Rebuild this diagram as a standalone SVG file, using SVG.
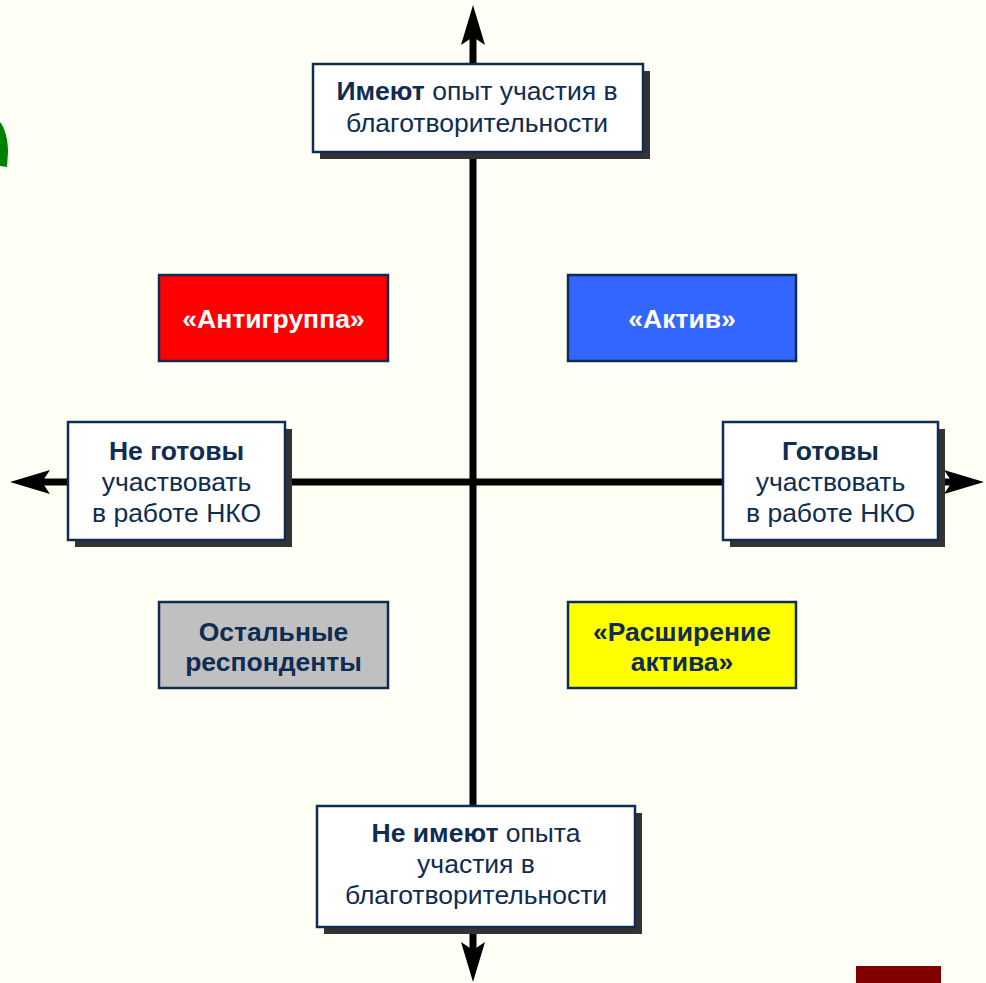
<svg xmlns="http://www.w3.org/2000/svg" width="986" height="983" viewBox="0 0 986 983">
<style>
.t{font-family:"Liberation Sans",Arial,sans-serif;font-size:26.5px;fill:#0f2c52;text-anchor:middle}
.b{font-weight:bold}
.w{fill:#ffffff}
.box{fill:#ffffff;stroke:#0f2c52;stroke-width:2.5}
.sh{fill:#333333}
.q{stroke:#0f2c52;stroke-width:2.5}
.ax{stroke:#000000;stroke-width:7;fill:none}
</style>
<defs>
<marker id="arr" viewBox="0 0 40 24" refX="8" refY="12" markerWidth="40" markerHeight="24" markerUnits="userSpaceOnUse" orient="auto">
<path d="M0,0 L40,12 L0,24 L8,12 Z" fill="#000000"/>
</marker>
</defs>
<rect width="986" height="983" fill="#fffff6"/>
<path d="M0,122 C5,128 8,140 8,152 L7,167 L0,166 Z" fill="#008000"/>
<rect x="856" y="966" width="85" height="17" fill="#800000"/>
<g id="connectors">
<line class="ax" x1="473" y1="482" x2="473" y2="37" marker-end="url(#arr)"/>
<line class="ax" x1="473" y1="482" x2="473" y2="950" marker-end="url(#arr)"/>
<line class="ax" x1="473" y1="482" x2="42" y2="482" marker-end="url(#arr)"/>
<line class="ax" x1="473" y1="482" x2="952" y2="482" marker-end="url(#arr)"/>
</g>
<g id="top">
<rect class="sh" x="320" y="71" width="330" height="88"/>
<rect class="box" x="313" y="64" width="330" height="88"/>
<text class="t" x="477" y="100"><tspan class="b">Имеют</tspan> опыт участия в</text>
<text class="t" x="477" y="132">благотворительности</text>
</g>
<g id="bottom">
<rect class="sh" x="324" y="813" width="318" height="121"/>
<rect class="box" x="317" y="806" width="318" height="121"/>
<text class="t" x="476" y="842"><tspan class="b">Не имеют</tspan> опыта</text>
<text class="t" x="476" y="873">участия в</text>
<text class="t" x="476" y="904">благотворительности</text>
</g>
<g id="left">
<rect class="sh" x="75" y="429" width="217" height="118"/>
<rect class="box" x="68" y="422" width="217" height="118"/>
<text class="t b" x="176.5" y="460">Не готовы</text>
<text class="t" x="176.5" y="491">участвовать</text>
<text class="t" x="176.5" y="522">в работе НКО</text>
</g>
<g id="right">
<rect class="sh" x="730" y="429" width="215" height="118"/>
<rect class="box" x="723" y="422" width="215" height="118"/>
<text class="t b" x="830.5" y="460">Готовы</text>
<text class="t" x="830.5" y="491">участвовать</text>
<text class="t" x="830.5" y="522">в работе НКО</text>
</g>
<g id="antigroup">
<rect class="q" x="159" y="275" width="229" height="86" fill="#ff0000"/>
<text class="t b w" x="273.5" y="328">«Антигруппа»</text>
</g>
<g id="aktiv">
<rect class="q" x="568" y="275" width="228" height="86" fill="#3366ff"/>
<text class="t b w" x="682" y="328">«Актив»</text>
</g>
<g id="others">
<rect class="q" x="159" y="602" width="229" height="86" fill="#c0c0c0"/>
<text class="t b" x="273.5" y="641">Остальные</text>
<text class="t b" x="273.5" y="671">респонденты</text>
</g>
<g id="expansion">
<rect class="q" x="568" y="602" width="228" height="86" fill="#ffff00"/>
<text class="t b" x="682" y="641">«Расширение</text>
<text class="t b" x="682" y="671">актива»</text>
</g>
</svg>
